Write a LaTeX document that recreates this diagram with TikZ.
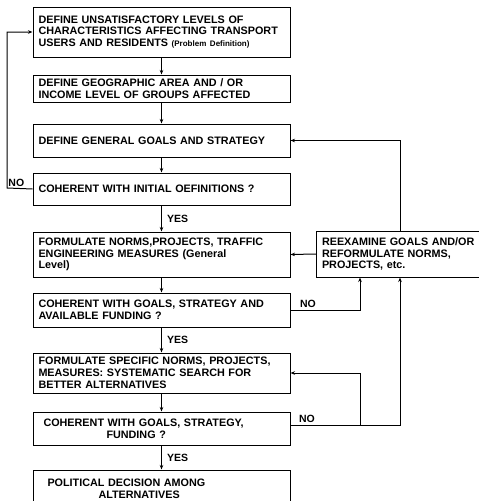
\documentclass[tikz,border=0pt]{standalone}
\usepackage{fontspec}
\setmainfont{Liberation Sans}
\usetikzlibrary{arrows.meta}
\begin{document}
\begin{tikzpicture}[x=1pt, y=-1pt, >={Stealth[length=4.5pt,width=3.5pt]}, line width=1pt,
  box/.style={draw, text width=246pt, inner xsep=5.5pt, inner ysep=0pt, align=left,
    font=\bfseries\fontsize{10.8}{11.8}\selectfont},
  lab/.style={font=\bfseries\fontsize{10.5}{11}\selectfont, inner sep=0pt}]
\useasboundingbox (0,0) rectangle (479,501);
\clip (0,0) rectangle (479,501);
\node[box, minimum height=50pt] (def) at (161.5,32) {DEFINE UNSATISFACTORY LEVELS OF\\CHARACTERISTICS AFFECTING TRANSPORT\\USERS AND RESIDENTS {\fontsize{8}{11.8}\selectfont(Problem Definition)}};
\node[box, minimum height=27pt] (area) at (161.5,88.5) {DEFINE GEOGRAPHIC AREA AND / OR\\INCOME LEVEL OF GROUPS AFFECTED};
\node[box, minimum height=33pt] (goals) at (161.5,140.5) {DEFINE GENERAL GOALS AND STRATEGY};
\node[box, minimum height=32pt] (coh1) at (161.5,189) {COHERENT WITH INITIAL OEFINITIONS ?};
\node[box, minimum height=45pt] (norms) at (161.5,254.5) {FORMULATE NORMS,PROJECTS, TRAFFIC\\ENGINEERING MEASURES (General\\Level)};
\node[box, minimum height=34pt] (coh2) at (161.5,310) {COHERENT WITH GOALS, STRATEGY AND\\AVAILABLE FUNDING ?};
\node[box, minimum height=40pt] (spec) at (161.5,373) {FORMULATE SPECIFIC NORMS, PROJECTS,\\MEASURES: SYSTEMATIC SEARCH FOR\\BETTER ALTERNATIVES};
\node[box, minimum height=33pt] (coh3) at (161.5,428.5) {\hspace*{5pt}COHERENT WITH GOALS, STRATEGY,\\\hspace*{68pt}FUNDING ?};
\node[box, minimum height=38pt] (dec) at (161.5,489) {\hspace*{9pt}POLITICAL DECISION AMONG\\\hspace*{60pt}ALTERNATIVES};
\node[box, minimum height=46pt, text width=158pt] (reex) at (401,254) {REEXAMINE GOALS AND/OR\\REFORMULATE NORMS,\\PROJECTS, etc.};
\coordinate (no1) at (7,188);
\coordinate (no2) at (360,310);
\coordinate (no3) at (400,425);
\coordinate (fork) at (360,425);
\draw[->](def)--(area);
\draw[->](area)--(goals);
\draw[->](goals)--(coh1);
\draw[->](coh1)--node[lab, right=5pt]{YES}(norms);
\draw[->](norms)--(coh2);
\draw[->](coh2)--node[lab, right=5pt]{YES}(spec);
\draw[->](spec)--(coh3);
\draw[->](coh3)--node[lab, right=5pt]{YES}(dec);
\draw[->](coh1.west)--(no1)|-(def.west);
\node[lab, above right=1pt] at (no1) {NO};
\draw[->](coh2.east)--node[lab, above=2pt, pos=.25]{NO}(no2)--(no2|-reex.south);
\draw[->](reex.west)--(norms.east);
\draw[->](reex.north-|no3)|-(goals.east);
\draw[->](coh3.east|-no3)--node[lab, above=2pt, pos=.15]{NO}(no3)--(no3|-reex.south);
\draw[->](fork)|-(spec.east);
\end{tikzpicture}
\end{document}
